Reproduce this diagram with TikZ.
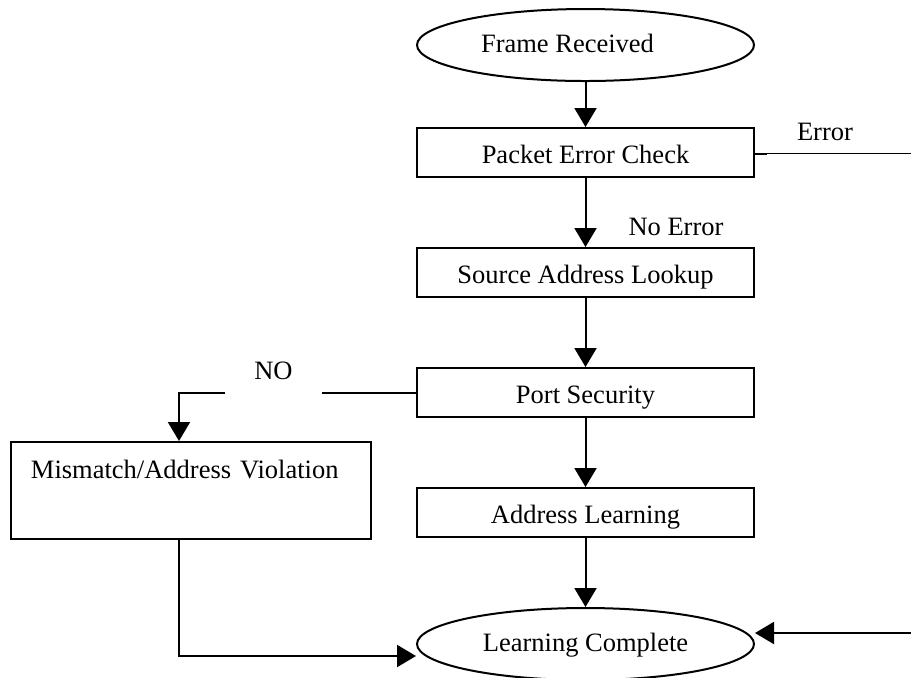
\documentclass[tikz,border=0pt]{standalone}
\usepackage{fontspec}
\setmainfont{Liberation Serif}
\usetikzlibrary{positioning,shapes.geometric,arrows.meta}

\begin{document}
\begin{tikzpicture}[x=0.5pt, y=-0.5pt, line width=1pt, node distance=34.5pt,
   font=\fontsize{13.25}{15}\selectfont]
   \tikzstyle{box}=[draw, rectangle, minimum width=168.5pt, minimum height=24.5pt, inner sep=0pt, text height=10.5pt, text depth=0pt]
   \tikzstyle{term}=[draw, ellipse, minimum width=168.5pt, minimum height=36pt, inner sep=0pt, text height=7pt, text depth=0pt]
   \tikzstyle{arrow}=[-{Triangle[length=9.5pt, width=11pt]}]

\useasboundingbox (0,0) rectangle (911,677);

% main column
\node[term] (recv) at (585.5,45) {Frame Received\rule{18pt}{0pt}};
\node[box, below=22.5pt of recv] (check) {Packet Error Check};
\node[box, below=of check] (lookup) {Source Address Lookup};
\node[box, below=of lookup] (security) {Port Security};
\node[box, below=of security] (learn) {Address Learning};
\node[term, below=of learn] (done) {Learning Complete};

% side box
\node[draw, rectangle, anchor=north west, text width=160pt, align=left, inner xsep=10pt, inner ysep=0pt,
      text height=18pt, text depth=30.5pt] (violation) at (10,441) {Mismatch/Address Violation};

\coordinate (edge) at (911,0);
\coordinate (errout) at ([yshift=-0.5pt]check.east -| edge);
\coordinate (retin) at ([yshift=5.5pt]done.east -| edge);

\draw[arrow] (recv) -- (check);
\draw[arrow] (check) -- (lookup);
\draw[arrow] (lookup) -- (security);
\draw[arrow] (security) -- (learn);
\draw[arrow] (learn) -- (done);

\draw[arrow] (security.west) -| ([xshift=-6pt]violation.north);
\draw[arrow] ([xshift=-6pt]violation.south) |- ([yshift=-6pt]done.west);

\draw[line width=0.5pt] ([yshift=-0.5pt]check.east) -- (errout);
\draw ([yshift=-0.5pt]check.east) -- ++(12,0);
\draw[arrow] (retin) -- ([yshift=5.5pt]done.east);

% labels
\node[anchor=base] (err) at (825,140) {Error};
\node[anchor=base] (noerr) at (676,235) {No Error};
\node[fill=white, anchor=base, inner sep=0pt, minimum width=48.5pt, text depth=10pt] (no) at (273.5,379) {NO};

\end{tikzpicture}
\end{document}
